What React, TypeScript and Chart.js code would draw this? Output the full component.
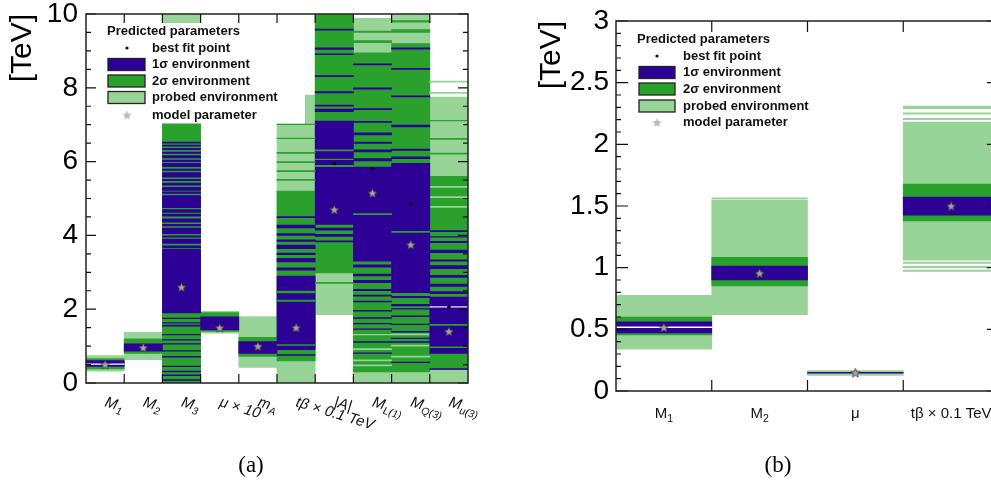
import React, { useEffect, useRef } from 'react';
import { Chart, registerables } from 'chart.js';
Chart.register(...registerables);

const FONT = "'Liberation Sans', Arial, Helvetica, sans-serif";
const SERIF = "'Liberation Serif', 'Times New Roman', serif";
Chart.defaults.font.family = FONT;

const C_PROBED = '#98d498';
const C_2S = '#29a12c';
const C_1S = '#2d0096';
const C_WHITE = '#ffffff';
const C_LAV = '#b4a6e6';

type Stripe = [number, number, number]; // [category index, low, high]

// ---------------- panel (a) ----------------
const catsA = ['M1', 'M2', 'M3', 'mu10', 'mA', 'tb', 'A', 'ML1', 'MQ3', 'Mu3'];
const xLabelsA = ['M_1', 'M_2', 'M_3', 'μ × 10', 'm_A', 'tβ × 0.1 TeV', '|A|', 'M_L(1)', 'M_Q(3)', 'M_u(3)'];
const probedLoA = [0.32, 0.63, 0, 1.35, 0.42, 0, 1.85, 0, 0, 0];
const probedHiA = [0.74, 1.37, 10, 1.94, 1.8, 7.8, 10, 9.88, 10, 7.75];
const sigma2LoA = [0.38, 0.8, 0, 1.4, 0.72, 0.6, 2.98, 0.3, 0.3, 0.36];
const sigma2HiA = [0.66, 1.2, 9.75, 1.91, 1.24, 5.2, 10, 8.95, 9.2, 5.6];
const sigma1LoA = [0.45, 0.86, 1.9, 1.44, 0.8, 0.9, 4.3, 3.3, 2.45, 0.8];
const sigma1HiA = [0.61, 1.06, 3.45, 1.79, 1.12, 2.9, 7.1, 5.85, 5.95, 2.33];
const bestFitA = [0.5, 0.98, 2.66, 1.55, 1.05, 1.5, 5.95, 5.8, 4.85, 2.06];
const modelA = [0.5, 0.96, 2.6, 1.5, 1.0, 1.5, 4.7, 5.15, 3.75, 1.4];
const yTicksA = [0, 2, 4, 6, 8, 10];

const blueStripesA: Stripe[] = [
  [2, 3.45, 3.62], [2, 3.66, 3.72], [2, 3.78, 3.9], [2, 3.95, 3.99], [2, 4.05, 4.2], [2, 4.26, 4.3],
  [2, 4.36, 4.45], [2, 4.52, 4.58], [2, 4.62, 4.7], [2, 4.75, 5.08], [2, 5.14, 5.18], [2, 5.22, 5.3],
  [2, 5.36, 5.42], [2, 5.48, 5.52], [2, 5.58, 5.7], [2, 5.76, 5.8], [2, 5.86, 5.95], [2, 6.0, 6.04],
  [2, 6.1, 6.16], [2, 6.22, 6.26], [2, 6.32, 6.36], [2, 6.42, 6.45], [2, 6.5, 6.53],
  [2, 1.74, 1.76], [2, 1.62, 1.64], [2, 1.54, 1.57], [2, 1.3, 1.32], [2, 1.16, 1.18], [2, 1.05, 1.07],
  [2, 0.86, 0.88], [2, 0.7, 0.72], [2, 0.44, 0.46], [2, 0.3, 0.32], [2, 0.2, 0.22], [2, 0.07, 0.09],
  [5, 4.48, 4.51], [5, 4.2, 4.28], [5, 4.0, 4.05], [5, 3.84, 3.88], [5, 3.64, 3.74], [5, 3.48, 3.52],
  [5, 3.28, 3.38], [5, 3.06, 3.12], [5, 0.75, 0.77],
  [6, 7.35, 7.42], [6, 7.5, 7.53], [6, 7.86, 7.9], [6, 8.3, 8.33], [6, 8.9, 8.92], [6, 9.04, 9.08],
  [6, 9.56, 9.59], [6, 4.14, 4.2], [6, 3.97, 4.03], [6, 3.82, 3.85],
  [7, 6.02, 6.08], [7, 6.26, 6.32], [7, 6.49, 6.53], [7, 6.72, 6.78], [7, 7.06, 7.09], [7, 7.41, 7.44],
  [7, 7.96, 8.0], [7, 8.62, 8.65], [7, 3.14, 3.2], [7, 2.9, 2.95], [7, 2.72, 2.78], [7, 2.5, 2.54],
  [7, 2.35, 2.38], [7, 2.2, 2.22], [7, 1.95, 1.97], [7, 1.75, 1.77], [7, 1.6, 1.62], [7, 1.45, 1.47],
  [7, 1.1, 1.12], [7, 0.8, 0.82],
  [8, 6.94, 6.99], [8, 6.3, 6.34], [8, 6.08, 6.13], [8, 7.75, 7.78], [8, 8.5, 8.53], [8, 9.05, 9.08],
  [8, 2.31, 2.35], [8, 2.09, 2.13], [8, 2.0, 2.02], [8, 1.8, 1.82], [8, 1.58, 1.6], [8, 1.38, 1.4],
  [8, 1.2, 1.22], [8, 1.1, 1.12], [8, 0.55, 0.57],
  [9, 2.42, 2.48], [9, 2.62, 2.68], [9, 2.86, 2.92], [9, 3.1, 3.18], [9, 3.3, 3.34], [9, 3.53, 3.6],
  [9, 3.8, 3.84], [9, 4.1, 4.13], [9, 3.95, 3.97], [9, 0.37, 0.39],
];
const greenStripesA: Stripe[] = [
  [5, 2.44, 2.49], [5, 2.21, 2.25], [5, 1.02, 1.04], [5, 6.22, 6.25], [5, 5.97, 6.0], [5, 5.73, 5.76],
  [5, 5.49, 5.52], [5, 6.62, 6.64], [5, 7.0, 7.02],
  [6, 6.29, 6.32], [6, 5.86, 5.9], [6, 6.05, 6.07], [6, 2.7, 2.73],
  [7, 4.56, 4.59], [7, 9.22, 9.28], [7, 9.5, 9.54],
  [8, 4.08, 4.11], [8, 9.5, 9.58], [8, 9.78, 9.82],
  [9, 1.56, 1.59], [9, 0.96, 0.98], [9, 6.6, 6.63], [9, 6.2, 6.23], [9, 7.1, 7.12],
];
const lightStripesA: Stripe[] = [
  [7, 0.9, 0.93], [7, 0.6, 0.63], [7, 0.46, 0.49], [7, 1.3, 1.32],
  [8, 1.3, 1.33], [8, 1.0, 1.03], [8, 0.7, 0.73],
  [9, 5.3, 5.33], [9, 5.02, 5.05], [9, 4.76, 4.79], [9, 7.85, 7.88], [9, 8.15, 8.18],
];
const whiteStripesA: Stripe[] = [[0, 0.505, 0.52]];
const lavenderStripesA: Stripe[] = [[9, 2.045, 2.075]];

// ---------------- panel (b) ----------------
const catsB = ['M1', 'M2', 'mu', 'tb'];
const xLabelsB = ['M_1', 'M_2', 'μ', 'tβ × 0.1 TeV'];
const probedLoB = [0.34, 0.618, 0.127, 1.06];
const probedHiB = [0.775, 1.55, 0.165, 2.18];
const sigma2LoB = [0.455, 0.853, null, 1.38];
const sigma2HiB = [0.6, 1.083, null, 1.677];
const sigma1LoB = [0.47, 0.9, 0.145, 1.426];
const sigma1HiB = [0.56, 1.013, 0.152, 1.572];
const bestFitB = [0.52, 0.956, 0.15, 1.5];
const modelB = [0.515, 0.956, 0.148, 1.5];
const yTicksB = [0, 0.5, 1, 1.5, 2, 2.5, 3];
const lightStripesB: Stripe[] = [
  [1, 1.56, 1.566], [3, 2.2, 2.21], [3, 2.245, 2.255], [3, 2.29, 2.31], [3, 1.035, 1.045],
  [3, 1.0, 1.01], [3, 0.97, 0.98],
];
const whiteStripesB: Stripe[] = [[0, 0.513, 0.52]];

const legendRows = [
  { kind: 'title', text: 'Predicted parameters' },
  { kind: 'dot', text: 'best fit point' },
  { kind: 'box', color: C_1S, text: '1σ environment' },
  { kind: 'box', color: C_2S, text: '2σ environment' },
  { kind: 'box', color: C_PROBED, text: 'probed environment' },
  { kind: 'star', text: 'model parameter' },
];

function makeStar(size: number, fill: string, stroke: string | null) {
  const c = document.createElement('canvas');
  c.width = size;
  c.height = size;
  const g = c.getContext('2d')!;
  const r = size / 2 - 0.6;
  const ri = r * 0.45;
  g.beginPath();
  for (let k = 0; k < 10; k++) {
    const rr = k % 2 ? ri : r;
    const ang = -Math.PI / 2 + (k * Math.PI) / 5;
    g.lineTo(size / 2 + rr * Math.cos(ang), size / 2 + 0.5 + rr * Math.sin(ang));
  }
  g.closePath();
  g.fillStyle = fill;
  g.fill();
  if (stroke) {
    g.strokeStyle = stroke;
    g.lineWidth = 0.7;
    g.stroke();
  }
  return c;
}

function bandData(cats: string[], lo: (number | null)[], hi: (number | null)[]) {
  const out: any[] = [];
  cats.forEach((c, i) => {
    if (lo[i] != null && hi[i] != null) out.push({ x: c, y: [lo[i], hi[i]] });
  });
  return out;
}
function stripeData(cats: string[], s: Stripe[]) {
  return s.map(([i, lo, hi]) => ({ x: cats[i], y: [lo, hi] }));
}
const barBase = {
  type: 'bar',
  borderWidth: 0,
  borderSkipped: false,
  grouped: false,
  barPercentage: 1,
  categoryPercentage: 1,
};

function splitLabel(s: string) {
  const k = s.indexOf('_');
  if (k < 0) return [{ t: s, sub: false }];
  return [
    { t: s.slice(0, k), sub: false },
    { t: s.slice(k + 1), sub: true },
  ];
}

function buildConfig(spec: any) {
  const starImg = makeStar(11, '#a6a6a6', '#333');
  const legendStar = makeStar(11, '#b8b8b8', null);
  const cats = spec.cats;
  const datasets: any[] = [
    { ...barBase, label: 'probed', data: bandData(cats, spec.probedLo, spec.probedHi), backgroundColor: C_PROBED, order: 10 },
    { ...barBase, label: 'light stripes', data: stripeData(cats, spec.lightStripes), backgroundColor: C_PROBED, order: 6 },
    { ...barBase, label: '2s', data: bandData(cats, spec.sigma2Lo, spec.sigma2Hi), backgroundColor: C_2S, order: 7 },
    { ...barBase, label: 'blue stripes', data: stripeData(cats, spec.blueStripes), backgroundColor: C_1S, order: 5 },
    { ...barBase, label: '1s', data: bandData(cats, spec.sigma1Lo, spec.sigma1Hi), backgroundColor: C_1S, order: 4 },
    { ...barBase, label: 'green stripes', data: stripeData(cats, spec.greenStripes), backgroundColor: C_2S, order: 3 },
    { ...barBase, label: 'white stripes', data: stripeData(cats, spec.whiteStripes), backgroundColor: C_WHITE, order: 2 },
    { ...barBase, label: 'lavender stripes', data: stripeData(cats, spec.lavenderStripes), backgroundColor: C_LAV, order: 2 },
    {
      type: 'line', label: 'best fit', showLine: false, order: 1,
      data: cats.map((c: string, i: number) => ({ x: c, y: spec.bestFit[i] })),
      pointRadius: 1.8, pointBackgroundColor: '#000', pointBorderWidth: 0,
    },
    {
      type: 'line', label: 'model', showLine: false, order: 0,
      data: cats.map((c: string, i: number) => ({ x: c, y: spec.model[i] })),
      pointStyle: starImg, pointRadius: 5,
    },
  ];

  const decor = {
    id: 'decor',
    afterDatasetsDraw(chart: any) {
      const ctx = chart.ctx as CanvasRenderingContext2D;
      const a = chart.chartArea;
      const xs = chart.scales.x;
      const ys = chart.scales.y;
      const L = spec.legend;
      ctx.save();
      if (L.box) {
        ctx.fillStyle = '#fff';
        ctx.fillRect(L.box[0], L.box[1], L.box[2] - L.box[0], L.box[3] - L.box[1]);
      }
      // ticks
      ctx.strokeStyle = '#111';
      ctx.lineWidth = 1.2;
      ctx.beginPath();
      const n = Math.round(spec.yMax / spec.minorStep);
      for (let k = 0; k <= n; k++) {
        const v = k * spec.minorStep;
        const py = ys.getPixelForValue(v);
        const r = v / spec.majorStep;
        const len = Math.abs(r - Math.round(r)) < 1e-6 ? spec.majorLen : spec.minorLen;
        ctx.moveTo(a.left, py);
        ctx.lineTo(a.left + len, py);
        ctx.moveTo(a.right, py);
        ctx.lineTo(a.right - len, py);
      }
      for (let i = 0; i < cats.length - 1; i++) {
        const px = (xs.getPixelForValue(i) + xs.getPixelForValue(i + 1)) / 2;
        ctx.moveTo(px, a.top);
        ctx.lineTo(px, a.top + spec.boundaryLen);
        ctx.moveTo(px, a.bottom);
        ctx.lineTo(px, a.bottom - spec.boundaryLen);
      }
      ctx.stroke();
      ctx.lineWidth = 1.5;
      ctx.strokeStyle = '#222';
      ctx.strokeRect(a.left, a.top, a.right - a.left, a.bottom - a.top);

      // legend
      ctx.textBaseline = 'middle';
      ctx.textAlign = 'left';
      ctx.font = `bold 13px ${FONT}`;
      legendRows.forEach((row: any, i: number) => {
        const y = L.rowsY[i];
        ctx.fillStyle = '#111';
        if (row.kind === 'title') {
          ctx.fillText(row.text, L.titleX, y);
          return;
        }
        if (row.kind === 'dot') {
          ctx.beginPath();
          ctx.arc(L.markerX, y, 1.6, 0, Math.PI * 2);
          ctx.fill();
        } else if (row.kind === 'star') {
          ctx.drawImage(legendStar, L.markerX - 5.5, y - 5.5);
        } else {
          ctx.fillStyle = row.color;
          ctx.fillRect(L.boxX, y - 6, L.boxW, 12);
          ctx.strokeStyle = '#222';
          ctx.lineWidth = 1.3;
          ctx.strokeRect(L.boxX, y - 6, L.boxW, 12);
        }
        ctx.fillStyle = '#111';
        ctx.fillText(row.text, L.textX, y);
      });

      // x labels
      ctx.fillStyle = '#111';
      ctx.textBaseline = 'alphabetic';
      const mainFont = `${spec.italic ? 'italic ' : ''}15px ${FONT}`;
      const subFont = `${spec.italic ? 'italic ' : ''}10.5px ${FONT}`;
      spec.xLabels.forEach((lab: string, i: number) => {
        const segs = splitLabel(lab);
        const px = xs.getPixelForValue(i);
        let total = 0;
        segs.forEach((s) => {
          ctx.font = s.sub ? subFont : mainFont;
          total += ctx.measureText(s.t).width;
        });
        ctx.save();
        if (spec.italic) {
          ctx.translate(px - 1, spec.labelY);
          ctx.rotate((17 * Math.PI) / 180);
        } else {
          ctx.translate(px - total / 2, spec.labelY);
        }
        let cx = 0;
        segs.forEach((s) => {
          ctx.font = s.sub ? subFont : mainFont;
          ctx.fillText(s.t, cx, s.sub ? 4 : 0);
          cx += ctx.measureText(s.t).width;
        });
        ctx.restore();
      });

      // caption
      ctx.font = `23px ${SERIF}`;
      ctx.textAlign = 'center';
      ctx.fillStyle = '#000';
      ctx.fillText(spec.caption, spec.captionX, 472);
      ctx.restore();
    },
  };

  return {
    data: { labels: cats, datasets },
    options: {
      animation: false,
      responsive: false,
      events: [],
      layout: { padding: spec.padding },
      plugins: { legend: { display: false }, tooltip: { enabled: false } },
      scales: {
        x: { type: 'category', labels: cats, display: false, offset: true },
        y: {
          type: 'linear',
          position: 'left',
          min: 0,
          max: spec.yMax,
          afterBuildTicks: (s: any) => {
            s.ticks = spec.yTicks.map((v: number) => ({ value: v }));
          },
          afterFit: (s: any) => {
            s.width = spec.axisWidth;
            s.paddingTop = 0;
            s.paddingBottom = 0;
          },
          grid: { display: false, drawTicks: false },
          border: { display: false },
          ticks: {
            autoSkip: false,
            padding: spec.tickPad,
            color: '#000',
            font: { size: 28, family: FONT },
            callback: (v: number) => String(v),
          },
          title: {
            display: true,
            text: '[TeV]',
            align: 'end',
            color: '#000',
            font: { size: 30, family: FONT },
            padding: { top: spec.titlePad, bottom: 0 },
          },
        },
      },
    },
    plugins: [decor],
  } as any;
}

const specA = {
  cats: catsA, xLabels: xLabelsA,
  probedLo: probedLoA, probedHi: probedHiA, sigma2Lo: sigma2LoA, sigma2Hi: sigma2HiA,
  sigma1Lo: sigma1LoA, sigma1Hi: sigma1HiA, bestFit: bestFitA, model: modelA,
  blueStripes: blueStripesA, greenStripes: greenStripesA, lightStripes: lightStripesA,
  whiteStripes: whiteStripesA, lavenderStripes: lavenderStripesA,
  yMax: 10, yTicks: yTicksA, minorStep: 0.5, majorStep: 2, majorLen: 10, minorLen: 5, boundaryLen: 9,
  axisWidth: 86, tickPad: 8, titlePad: 5,
  padding: { left: 0, right: 32, top: 14, bottom: 101 },
  italic: true, labelY: 406,
  caption: '(a)', captionX: 251,
  legend: {
    box: [87, 23, 305, 123.5], titleX: 107, rowsY: [31, 48, 64.5, 81, 97.5, 115],
    boxX: 108, boxW: 37, markerX: 127, textX: 152,
  },
};

const specB = {
  cats: catsB, xLabels: xLabelsB,
  probedLo: probedLoB, probedHi: probedHiB, sigma2Lo: sigma2LoB, sigma2Hi: sigma2HiB,
  sigma1Lo: sigma1LoB, sigma1Hi: sigma1HiB, bestFit: bestFitB, model: modelB,
  blueStripes: [], greenStripes: [], lightStripes: lightStripesB,
  whiteStripes: whiteStripesB, lavenderStripes: [],
  yMax: 3, yTicks: yTicksB, minorStep: 0.1, majorStep: 0.5, majorLen: 12, minorLen: 5, boundaryLen: 11,
  axisWidth: 116, tickPad: 7, titlePad: 34,
  padding: { left: 0, right: 21, top: 21, bottom: 93 },
  italic: false, labelY: 418,
  caption: '(b)', captionX: 278,
  legend: {
    box: null, titleX: 137, rowsY: [39, 56, 72.5, 89, 106, 122.5],
    boxX: 139, boxW: 36, markerX: 157, textX: 183,
  },
};

function Panel({ spec, left, width }: { spec: any; left: number; width: number }) {
  const ref = useRef<HTMLCanvasElement>(null);
  useEffect(() => {
    const chart = new Chart(ref.current!, buildConfig(spec));
    return () => chart.destroy();
  }, [spec]);
  return (
    <canvas
      ref={ref}
      width={width}
      height={484}
      style={{ position: 'absolute', left, top: 0, width, height: 484, display: 'block' }}
    />
  );
}

export default function App() {
  return (
    <div
      style={{
        position: 'fixed', left: 0, top: 0, width: 991, height: 484,
        overflow: 'hidden', background: '#fff',
      }}
    >
      <Panel spec={specA} left={0} width={500} />
      <Panel spec={specB} left={500} width={520} />
    </div>
  );
}
